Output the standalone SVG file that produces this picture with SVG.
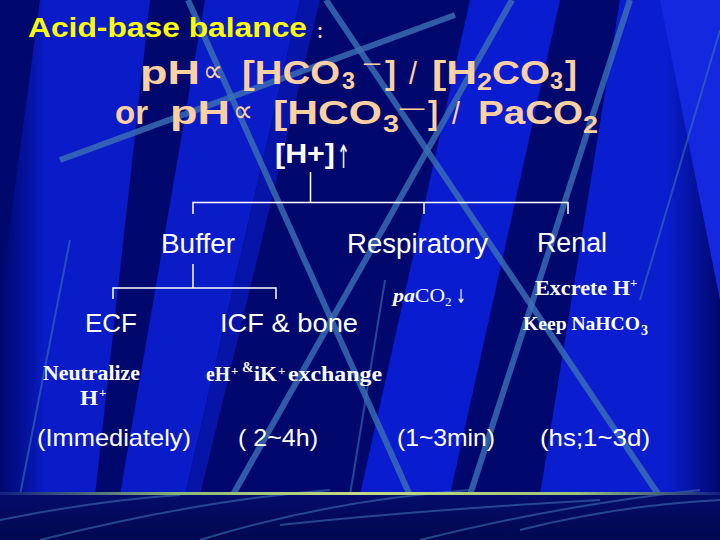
<svg xmlns="http://www.w3.org/2000/svg" width="720" height="540" viewBox="0 0 720 540">
<defs>
<linearGradient id="sep" x1="0" y1="0" x2="1" y2="0">
<stop offset="0" stop-color="#102080"/>
<stop offset="0.25" stop-color="#8cb878"/>
<stop offset="0.5" stop-color="#c4dc84"/>
<stop offset="0.8" stop-color="#9cc47c"/>
<stop offset="1" stop-color="#102080"/>
</linearGradient>
<linearGradient id="bandL" x1="0" y1="0" x2="1" y2="0">
<stop offset="0" stop-color="#0618b8" stop-opacity="0"/>
<stop offset="0.3" stop-color="#0a1cc8"/>
<stop offset="1" stop-color="#0a1cc8"/>
</linearGradient>
<linearGradient id="bandR" x1="0" y1="0" x2="1" y2="0">
<stop offset="0" stop-color="#0a1ed0"/>
<stop offset="0.7" stop-color="#0a1ed0"/>
<stop offset="1" stop-color="#0a1ed0" stop-opacity="0"/>
</linearGradient>
<linearGradient id="bot" x1="0" y1="0" x2="0" y2="1">
<stop offset="0" stop-color="#040c6a"/>
<stop offset="1" stop-color="#020850"/>
</linearGradient>
</defs>
<style>
.f{font-family:"Liberation Sans",Arial,sans-serif;font-weight:bold;fill:#fcd0a2;font-size:34px}
.fs{font-family:"Liberation Sans",Arial,sans-serif;font-weight:bold;fill:#fcd0a2;font-size:23px}
.pr{font-family:"DejaVu Sans",sans-serif;fill:#fcd0a2;font-size:32px}
.sl{font-family:"Liberation Sans",Arial,sans-serif;fill:#fcd0a2;font-size:32px}
.lab{font-family:"Liberation Sans",Arial,sans-serif;fill:#ffffff;font-size:27px}
.tm{font-family:"Liberation Serif","Times New Roman",serif;font-weight:bold;fill:#ffffff;font-size:21px}
.sup{font-family:"Liberation Serif","Times New Roman",serif;font-weight:bold;fill:#ffffff;font-size:13px}
.tim{font-family:"Liberation Sans",Arial,sans-serif;fill:#ffffff;font-size:24px}
.con{stroke:#ffffff;stroke-width:1.5;fill:none}
.st{stroke:#3c70b4;stroke-width:6;fill:none;opacity:0.8}
.st2{stroke:#3c70b4;stroke-width:2;fill:none;opacity:0.6}
</style>
<!-- background -->
<rect x="0" y="0" width="720" height="540" fill="#00086e"/>
<polygon points="40,0 150,0 95,495 0,495 0,300" fill="url(#bandL)"/>
<polygon points="205,0 300,0 185,495 120,495" fill="#0a1cc8"/>
<polygon points="300,0 320,0 200,495 185,495" fill="#0614a8"/>
<polygon points="470,0 560,0 450,495 360,495" fill="#0a1cd0"/>
<polygon points="620,0 720,0 720,495 540,495" fill="url(#bandR)"/>
<polygon points="660,0 720,0 720,300" fill="#1428e0"/>
<line class="st" x1="60" y1="160" x2="455" y2="15"/>
<line class="st" x1="188" y1="0" x2="430" y2="540"/>
<line class="st" x1="326" y1="0" x2="689" y2="540"/>
<line class="st" x1="512" y1="0" x2="230" y2="500"/>
<line class="st" x1="630" y1="0" x2="470" y2="495"/>
<line class="st2" x1="70" y1="240" x2="20" y2="495"/>
<line class="st2" x1="385" y1="280" x2="350" y2="495"/>
<line class="st2" x1="720" y1="30" x2="640" y2="300"/>
<rect x="0" y="495" width="720" height="45" fill="url(#bot)"/>
<path class="st2" d="M40,540 Q200,500 330,490 M200,540 Q330,500 470,490 M420,540 Q560,505 700,490 M0,520 Q100,500 180,495 M520,530 Q620,505 720,500 M280,525 Q420,510 600,500"/>
<rect x="0" y="492" width="720" height="3" fill="url(#sep)"/>

<!-- title -->
<g id="title">
<text x="28" y="37" font-family="Liberation Sans,Arial,sans-serif" font-weight="bold" font-size="28" fill="#ffff00" textLength="279" lengthAdjust="spacingAndGlyphs">Acid-base balance</text>
<text x="316" y="38" font-family="Noto Sans CJK SC,sans-serif" font-weight="bold" font-size="16" fill="#dcdce4">：</text>
</g>

<!-- formula -->
<g id="formula">
<text class="f" x="140" y="84" textLength="60" lengthAdjust="spacingAndGlyphs">pH</text>
<text class="pr" x="203" y="82" textLength="20" lengthAdjust="spacingAndGlyphs">∝</text>
<text class="f" x="242" y="84" textLength="98" lengthAdjust="spacingAndGlyphs">[HCO</text>
<text class="fs" x="342" y="89" textLength="13" lengthAdjust="spacingAndGlyphs">3</text>
<text class="f" x="364" y="89" textLength="16" lengthAdjust="spacingAndGlyphs">¯</text>
<text class="f" x="385" y="84" textLength="11" lengthAdjust="spacingAndGlyphs">]</text>
<text class="sl" x="409" y="84" textLength="8" lengthAdjust="spacingAndGlyphs">/</text>
<text class="f" x="432" y="84" textLength="45" lengthAdjust="spacingAndGlyphs">[H</text>
<text class="fs" x="477" y="90" textLength="15" lengthAdjust="spacingAndGlyphs">2</text>
<text class="f" x="492" y="84" textLength="58" lengthAdjust="spacingAndGlyphs">CO</text>
<text class="fs" x="550" y="89" textLength="13" lengthAdjust="spacingAndGlyphs">3</text>
<text class="f" x="565" y="84" textLength="12" lengthAdjust="spacingAndGlyphs">]</text>

<text class="f" x="115" y="124" textLength="33" lengthAdjust="spacingAndGlyphs">or</text>
<text class="f" x="170" y="124" textLength="60" lengthAdjust="spacingAndGlyphs">pH</text>
<text class="pr" x="233" y="122" textLength="20" lengthAdjust="spacingAndGlyphs">∝</text>
<text class="f" x="273" y="124" textLength="109" lengthAdjust="spacingAndGlyphs">[HCO</text>
<text class="fs" x="383" y="132" textLength="16" lengthAdjust="spacingAndGlyphs">3</text>
<text class="f" x="400" y="134" textLength="24" lengthAdjust="spacingAndGlyphs">¯</text>
<text class="f" x="428" y="124" textLength="10" lengthAdjust="spacingAndGlyphs">]</text>
<text class="sl" x="452" y="124" textLength="8" lengthAdjust="spacingAndGlyphs">/</text>
<text class="f" x="478" y="124" textLength="105" lengthAdjust="spacingAndGlyphs">PaCO</text>
<text class="fs" x="583" y="133" textLength="15" lengthAdjust="spacingAndGlyphs">2</text>
</g>

<!-- connectors -->
<g id="connectors">
<path class="con" d="M310.5,172 V202.5 M193,214 V202.5 H568 V214 M424,202.5 V214"/>
<path class="con" d="M193,264 V288 M113,299 V288 H276 V299"/>
</g>

<g id="node-h">
<text x="275" y="163" font-family="Liberation Sans,Arial,sans-serif" font-weight="bold" font-size="28" fill="#ffffff" textLength="60" lengthAdjust="spacingAndGlyphs">[H+]</text>
<text x="337" y="168" font-family="DejaVu Sans,sans-serif" font-size="32" fill="#ffffff" textLength="13" lengthAdjust="spacingAndGlyphs">↑</text>
</g>

<g id="node-buffer"><text class="lab" x="161" y="253" textLength="74" lengthAdjust="spacingAndGlyphs">Buffer</text></g>
<g id="node-respiratory"><text class="lab" x="347" y="253" textLength="141" lengthAdjust="spacingAndGlyphs">Respiratory</text></g>
<g id="node-renal"><text class="lab" x="537" y="252" textLength="70" lengthAdjust="spacingAndGlyphs">Renal</text></g>

<g id="node-ecf">
<text class="lab" x="85" y="332" textLength="52" lengthAdjust="spacingAndGlyphs" style="font-size:25px">ECF</text>
<text class="tm" x="43" y="380" textLength="97" lengthAdjust="spacingAndGlyphs">Neutralize</text>
<text class="tm" x="80" y="405" textLength="18" lengthAdjust="spacingAndGlyphs">H</text>
<text class="sup" x="99" y="397">+</text>
<text class="tim" x="37" y="446" textLength="154" lengthAdjust="spacingAndGlyphs">(Immediately)</text>
</g>

<g id="node-icf">
<text class="lab" x="220" y="332" textLength="138" lengthAdjust="spacingAndGlyphs" style="font-size:25px">ICF &amp; bone</text>
<text class="tm" x="206" y="381" textLength="24" lengthAdjust="spacingAndGlyphs">eH</text>
<text class="sup" x="231" y="375">+</text>
<text class="sup" x="242" y="372" style="font-size:14px">&amp;</text>
<text class="tm" x="254" y="381" textLength="23" lengthAdjust="spacingAndGlyphs">iK</text>
<text class="sup" x="278" y="375">+</text>
<text class="tm" x="288" y="381" textLength="94" lengthAdjust="spacingAndGlyphs">exchange</text>
<text class="tim" x="238" y="446" textLength="80" lengthAdjust="spacingAndGlyphs">( 2~4h)</text>
</g>

<g id="node-resp-detail">
<text x="393" y="302" font-family="Liberation Serif,serif" font-weight="bold" font-style="italic" font-size="18" fill="#ffffff" textLength="22" lengthAdjust="spacingAndGlyphs">pa</text>
<text x="415" y="302" font-family="Liberation Serif,serif" font-size="18" fill="#ffffff" textLength="30" lengthAdjust="spacingAndGlyphs">CO</text>
<text x="445" y="306" font-family="Liberation Serif,serif" font-size="13" fill="#ffffff">2</text>
<text x="456" y="303" font-family="DejaVu Sans,sans-serif" font-size="19" fill="#ffffff" textLength="10" lengthAdjust="spacingAndGlyphs">↓</text>
<text class="tim" x="397" y="446" textLength="98" lengthAdjust="spacingAndGlyphs">(1~3min)</text>
</g>

<g id="node-renal-detail">
<text class="tm" x="535" y="295" style="font-size:22px" textLength="95" lengthAdjust="spacingAndGlyphs">Excrete H</text>
<text class="sup" x="630" y="287">+</text>
<text class="tm" x="523" y="330" style="font-size:19px" textLength="117" lengthAdjust="spacingAndGlyphs">Keep NaHCO</text>
<text class="sup" x="641" y="335" style="font-size:14px">3</text>
<text class="tim" x="540" y="446" textLength="110" lengthAdjust="spacingAndGlyphs">(hs;1~3d)</text>
</g>
</svg>
